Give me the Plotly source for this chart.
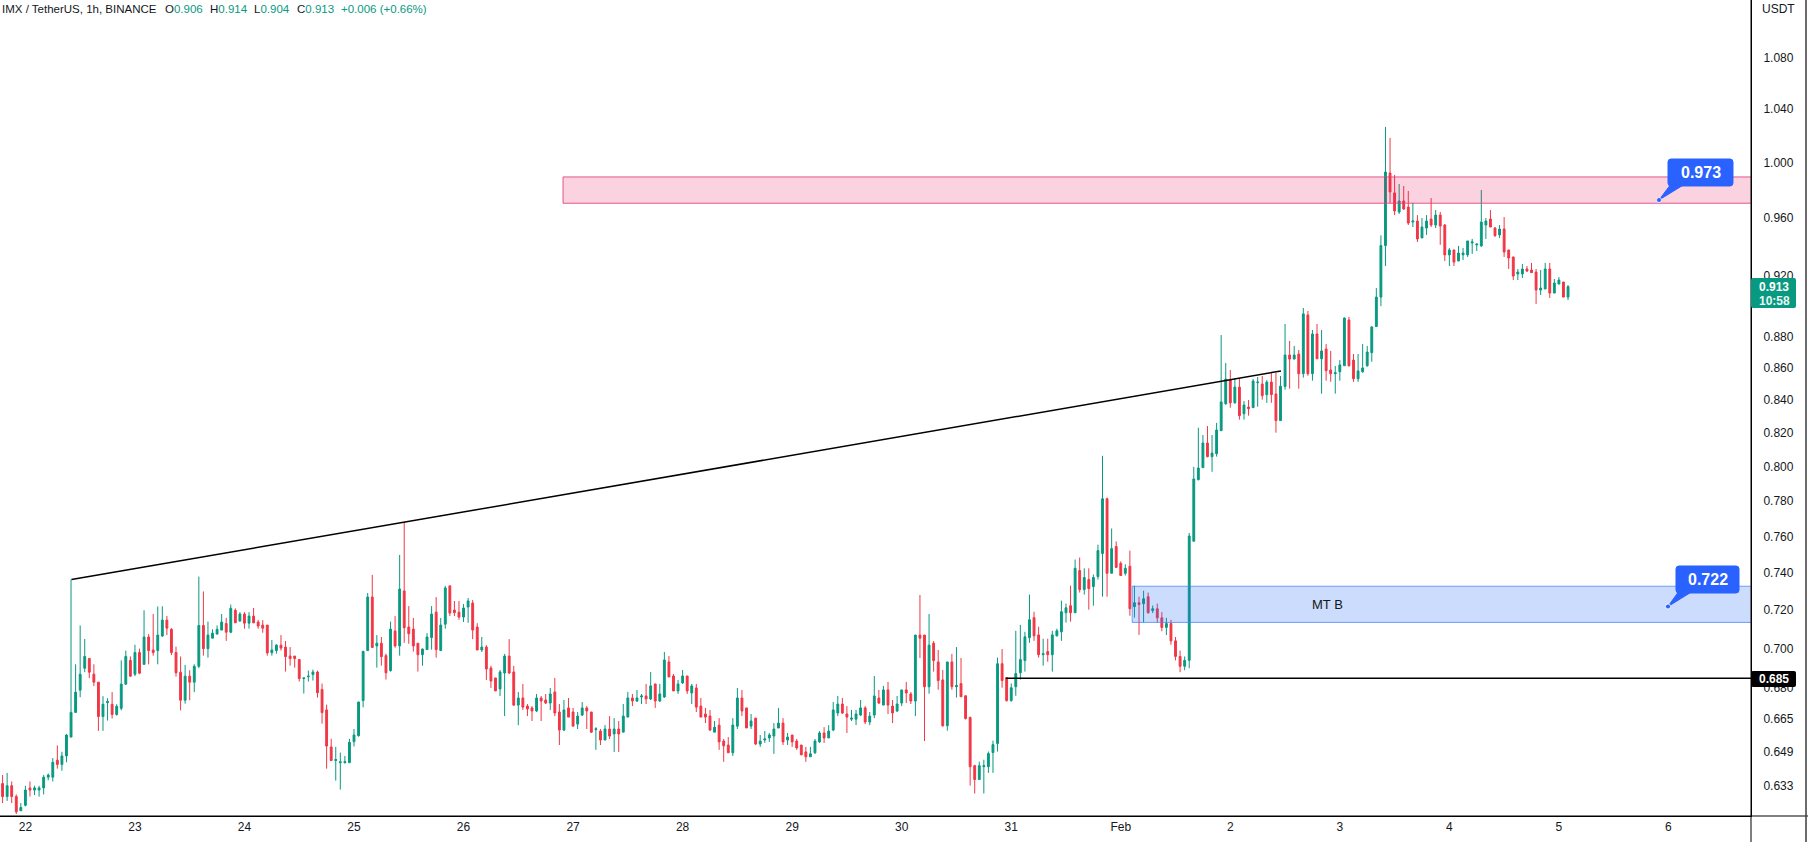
import math
import pandas as pd
import plotly.graph_objects as go

# ---------------- data (hourly candles, IMX/USDT) ----------------
START = "2023-01-21 19:00"

OPEN = [
    0.634, 0.628, 0.633, 0.628, 0.6215, 0.624, 0.632, 0.631, 0.631, 0.632,
    0.637, 0.637, 0.645, 0.643, 0.647, 0.656, 0.668, 0.679, 0.690, 0.695,
    0.687, 0.683, 0.666, 0.6728, 0.672, 0.667, 0.670, 0.682, 0.694, 0.687,
    0.698, 0.692, 0.706, 0.6993, 0.699, 0.7065, 0.7148, 0.710, 0.698, 0.688,
    0.674, 0.686, 0.683, 0.691, 0.712, 0.700, 0.7054, 0.7075, 0.7096, 0.713,
    0.7085, 0.720, 0.7143, 0.718, 0.7132, 0.7169, 0.7138, 0.7122, 0.7122, 0.6979,
    0.699, 0.7018, 0.7008, 0.6962, 0.6962, 0.6944, 0.6848, 0.6857, 0.6868, 0.6881,
    0.6793, 0.6692, 0.6513, 0.6448, 0.6438, 0.6438, 0.6438, 0.6538, 0.6567, 0.6738,
    0.699, 0.727, 0.7014, 0.7028, 0.6964, 0.6888, 0.7091, 0.7014, 0.7303, 0.7112,
    0.7101, 0.7028, 0.6969, 0.6995, 0.7057, 0.719, 0.699, 0.7127, 0.733, 0.7201,
    0.719,
    0.7164, 0.7217, 0.7238, 0.7112, 0.6993, 0.7008, 0.6901, 0.6851, 0.6796, 0.6876,
    0.6962, 0.6881, 0.6716, 0.6751, 0.6711, 0.6702, 0.6687, 0.6751, 0.6741, 0.6726,
    0.6781, 0.6682, 0.6594, 0.6702, 0.6682, 0.6623, 0.6667, 0.6702, 0.6682, 0.6596,
    0.6589, 0.6546, 0.6599, 0.6575, 0.6599, 0.6584, 0.6657, 0.6751, 0.6736, 0.6756,
    0.6761, 0.6746, 0.6821, 0.6736, 0.6756, 0.6932, 0.6861, 0.6786, 0.6826, 0.6861,
    0.6776, 0.6801, 0.6711, 0.6672, 0.6662, 0.6584, 0.6618, 0.6541, 0.6522, 0.6485,
    0.6613, 0.6751, 0.6702, 0.6613, 0.6652, 0.6527, 0.6546, 0.6556, 0.6565, 0.6604,
    0.6628, 0.6546, 0.657, 0.6541, 0.6522, 0.6489, 0.6466, 0.6485, 0.6537, 0.658,
    0.6556, 0.6594, 0.6677, 0.6721, 0.6672, 0.6647, 0.6647, 0.6667, 0.6702, 0.6633,
    0.6667, 0.6751, 0.6716, 0.6791, 0.6711, 0.6687, 0.6726, 0.6791, 0.6771, 0.6736,
    0.707,
    0.707, 0.6807, 0.7028, 0.6932, 0.6841, 0.6615, 0.6932, 0.6807, 0.6823, 0.6762,
    0.6655, 0.6424, 0.6359, 0.6419, 0.6419, 0.6486, 0.6529, 0.6923, 0.6852, 0.6738,
    0.6807, 0.6877, 0.6939, 0.7056, 0.7161, 0.7071, 0.6969, 0.6985, 0.6969, 0.7066,
    0.7087, 0.7187, 0.7224, 0.7187, 0.7413, 0.731, 0.7364, 0.7326, 0.738, 0.7506,
    0.7814, 0.7398, 0.7545, 0.7452, 0.7398, 0.7436, 0.7219, 0.724, 0.7235, 0.7272,
    0.7198,
    0.7208, 0.716, 0.711, 0.713, 0.704, 0.696, 0.691,
    0.694, 0.7574, 0.7924, 0.7994, 0.814, 0.8059, 0.8076, 0.8214, 0.8378, 0.8525,
    0.8384, 0.8481, 0.8317, 0.8358, 0.8354, 0.8509, 0.85, 0.8434, 0.8512, 0.8438,
    0.8275, 0.8485, 0.8683, 0.8657, 0.8689, 0.8565, 0.8942, 0.8565, 0.8818, 0.8659,
    0.8721, 0.8588, 0.8565, 0.8577, 0.8615, 0.8909, 0.8651, 0.8533, 0.8577, 0.8615,
    0.8698, 0.8866,
    0.906,
    0.9409, 0.9924, 0.978, 0.9644, 0.9722, 0.9679, 0.9573, 0.958, 0.9462, 0.9531,
    0.9594, 0.9552, 0.9622, 0.9552, 0.9345, 0.9379, 0.9303, 0.9345, 0.9345, 0.9427,
    0.9414, 0.9407, 0.9552, 0.9594, 0.9531, 0.9483, 0.9524, 0.9379, 0.9331, 0.9215,
    0.9215, 0.9249, 0.9242, 0.9228, 0.9107, 0.9114, 0.9249, 0.9087, 0.9147, 0.9161,
    0.906,
]

HIGH = [
    0.638, 0.639, 0.635, 0.629, 0.625, 0.633, 0.635, 0.633, 0.633, 0.638,
    0.6387, 0.646, 0.652, 0.649, 0.6575, 0.7365, 0.692, 0.712, 0.705, 0.695,
    0.692, 0.683, 0.676, 0.675, 0.678, 0.672, 0.694, 0.699, 0.696, 0.702,
    0.700, 0.720, 0.7075, 0.718, 0.722, 0.7221, 0.717, 0.7106, 0.701, 0.696,
    0.6917, 0.689, 0.692, 0.738, 0.730, 0.714, 0.710, 0.712, 0.718, 0.716,
    0.723, 0.721, 0.719, 0.719, 0.719, 0.7212, 0.7148, 0.7148, 0.7122, 0.7044,
    0.7023, 0.707, 0.7039, 0.7008, 0.6962, 0.6947, 0.6852, 0.6888, 0.6893, 0.6888,
    0.6823, 0.6718, 0.6552, 0.6513, 0.6486, 0.647, 0.6552, 0.6599, 0.6733, 0.699,
    0.7292, 0.7389, 0.707, 0.706, 0.6974, 0.714, 0.7169, 0.7498, 0.7682, 0.7222,
    0.7159, 0.7028, 0.7000, 0.708, 0.7222, 0.727, 0.7159, 0.733, 0.733, 0.7249,
    0.7249,
    0.7233, 0.7265, 0.7254, 0.7132, 0.706, 0.7018, 0.6912, 0.6851, 0.6891, 0.6973,
    0.7049, 0.6912, 0.6781, 0.6821, 0.6721, 0.6711, 0.6771, 0.6761, 0.6771, 0.6801,
    0.6851, 0.6721, 0.6741, 0.6751, 0.6702, 0.6682, 0.6731, 0.6711, 0.6682, 0.6608,
    0.6599, 0.6618, 0.6662, 0.6652, 0.6638, 0.6721, 0.6781, 0.6771, 0.6791, 0.6771,
    0.6821, 0.6881, 0.6821, 0.6821, 0.6983, 0.6962, 0.6871, 0.6841, 0.6891, 0.6861,
    0.6821, 0.6821, 0.6751, 0.6702, 0.6692, 0.6638, 0.6652, 0.6551, 0.656, 0.6652,
    0.6801, 0.6791, 0.6702, 0.6672, 0.6652, 0.657, 0.6589, 0.658, 0.6628, 0.6702,
    0.6652, 0.658, 0.657, 0.6551, 0.6522, 0.6513, 0.6513, 0.6551, 0.6589, 0.6608,
    0.6618, 0.6731, 0.6761, 0.6751, 0.6711, 0.6692, 0.6692, 0.6741, 0.6711, 0.6682,
    0.6861, 0.6791, 0.6811, 0.6831, 0.6741, 0.6761, 0.6791, 0.6831, 0.6781, 0.707,
    0.7281,
    0.707, 0.718, 0.7039, 0.6993, 0.6891, 0.6932, 0.6973, 0.7008, 0.6952, 0.6762,
    0.666, 0.6428, 0.6443, 0.6452, 0.6491, 0.6543, 0.6954, 0.6998, 0.6852, 0.6823,
    0.7092, 0.7123, 0.7087, 0.7283, 0.7192, 0.7113, 0.7051, 0.7051, 0.7092, 0.7103,
    0.7251, 0.7235, 0.7331, 0.7473, 0.7484, 0.7425, 0.7425, 0.7391, 0.7555, 0.8064,
    0.782, 0.7645, 0.7573, 0.7463, 0.7447, 0.7522, 0.7331, 0.7272, 0.7304, 0.7294,
    0.7225,
    0.7235, 0.719, 0.716, 0.715, 0.706, 0.699, 0.696,
    0.762, 0.7999, 0.8232, 0.8188, 0.8242, 0.8188, 0.8261, 0.8811, 0.8632, 0.8588,
    0.8538, 0.8538, 0.8395, 0.8401, 0.8531, 0.8544, 0.855, 0.8525, 0.8575, 0.8569,
    0.855, 0.8883, 0.8773, 0.8741, 0.8715, 0.8988, 0.8968, 0.8844, 0.8883, 0.8844,
    0.8753, 0.8709, 0.8613, 0.8651, 0.8925, 0.8929, 0.8689, 0.8689, 0.8753, 0.8741,
    0.8868, 0.912,
    0.948,
    1.0265, 1.0182, 0.991, 0.9844, 0.983, 0.9794, 0.9708, 0.9622, 0.9601, 0.9622,
    0.9743, 0.9658, 0.9644, 0.9559, 0.9393, 0.9379, 0.9407, 0.9393, 0.9441, 0.9455,
    0.942, 0.9801, 0.9601, 0.9658, 0.9538, 0.9552, 0.9608, 0.9379, 0.9331, 0.9249,
    0.9283, 0.9269, 0.929, 0.9249, 0.9242, 0.929, 0.929, 0.9181, 0.9194, 0.9161,
    0.914,
]

LOW = [
    0.625, 0.626, 0.625, 0.620, 0.6215, 0.6235, 0.628, 0.6287, 0.628, 0.629,
    0.6356, 0.635, 0.641, 0.640, 0.644, 0.656, 0.668, 0.6755, 0.688, 0.685,
    0.681, 0.659, 0.659, 0.664, 0.665, 0.6664, 0.669, 0.6816, 0.6856, 0.686,
    0.687, 0.6917, 0.692, 0.6964, 0.692, 0.7061, 0.707, 0.6967, 0.6858, 0.669,
    0.6723, 0.674, 0.678, 0.690, 0.6964, 0.6954, 0.7054, 0.7075, 0.7096, 0.704,
    0.708, 0.7134, 0.714, 0.7103, 0.7103, 0.7132, 0.7103, 0.7082, 0.6964, 0.6964,
    0.6974, 0.699, 0.6883, 0.6913, 0.6903, 0.6833, 0.6773, 0.6833, 0.6838, 0.6753,
    0.6625, 0.641, 0.6448, 0.6354, 0.6312, 0.6434, 0.6438, 0.6515, 0.6562, 0.6705,
    0.699, 0.7006, 0.6903, 0.6913, 0.6843, 0.6883, 0.7005, 0.6964, 0.703, 0.7025,
    0.6985, 0.6883, 0.6913, 0.6995, 0.6995, 0.6954, 0.699, 0.7103, 0.7169, 0.7169,
    0.715,
    0.7138, 0.7134, 0.7049, 0.6993, 0.6983, 0.6841, 0.6801, 0.6786, 0.6761, 0.6662,
    0.6871, 0.6711, 0.6618, 0.6692, 0.6662, 0.6638, 0.6682, 0.6638, 0.6721, 0.6692,
    0.6662, 0.6522, 0.6589, 0.6657, 0.6613, 0.6599, 0.6662, 0.6599, 0.658, 0.6499,
    0.6522, 0.6546, 0.6551, 0.6489, 0.6489, 0.6584, 0.6657, 0.6711, 0.6731, 0.6721,
    0.6721, 0.6741, 0.6702, 0.6731, 0.6751, 0.6856, 0.6786, 0.6771, 0.6821, 0.6771,
    0.6721, 0.6682, 0.6657, 0.6628, 0.6589, 0.6584, 0.6499, 0.6442, 0.6485, 0.647,
    0.6599, 0.6662, 0.6604, 0.6599, 0.6522, 0.6513, 0.6532, 0.6537, 0.648, 0.6604,
    0.6522, 0.6522, 0.6513, 0.6499, 0.6475, 0.6442, 0.6466, 0.648, 0.6532, 0.6532,
    0.6556, 0.6589, 0.6662, 0.6672, 0.658, 0.6638, 0.6618, 0.6662, 0.6623, 0.6618,
    0.6652, 0.6721, 0.6716, 0.6672, 0.6628, 0.6682, 0.6711, 0.6726, 0.6721, 0.6662,
    0.6952,
    0.6541, 0.6772, 0.6883, 0.6792, 0.661, 0.6591, 0.6792, 0.6753, 0.6757, 0.6645,
    0.6331, 0.6294, 0.6359, 0.6294, 0.639, 0.639, 0.6491, 0.6802, 0.6733, 0.6733,
    0.6762, 0.6843, 0.6883, 0.703, 0.704, 0.6954, 0.6913, 0.6933, 0.6883, 0.7063,
    0.704, 0.7135, 0.714, 0.7187, 0.7294, 0.7283, 0.7203, 0.7224, 0.7364, 0.7272,
    0.7272, 0.7398, 0.743, 0.7386, 0.7386, 0.7171, 0.7161, 0.7071, 0.7135, 0.7182,
    0.7185,
    0.7135, 0.709, 0.707, 0.702, 0.694, 0.688, 0.689,
    0.690, 0.7574, 0.792, 0.7994, 0.8055, 0.797, 0.8059, 0.8214, 0.8372, 0.8354,
    0.8378, 0.8281, 0.8281, 0.8305, 0.8354, 0.836, 0.8403, 0.8384, 0.8384, 0.8202,
    0.8275, 0.8465, 0.8471, 0.8657, 0.8471, 0.854, 0.8552, 0.8521, 0.8659, 0.844,
    0.8521, 0.8514, 0.844, 0.8521, 0.8615, 0.8609, 0.8514, 0.8514, 0.8571, 0.8609,
    0.864, 0.8866,
    0.900,
    0.9269, 0.9708, 0.9622, 0.963, 0.9658, 0.9552, 0.9538, 0.9434, 0.9462, 0.9483,
    0.9538, 0.9531, 0.9414, 0.9303, 0.9269, 0.9269, 0.9303, 0.931, 0.9331, 0.9352,
    0.9372, 0.94, 0.9455, 0.9538, 0.9469, 0.9462, 0.9331, 0.9249, 0.9174, 0.9174,
    0.9188, 0.9228, 0.9222, 0.9015, 0.9074, 0.9114, 0.9054, 0.9087, 0.9147, 0.906,
    0.904,
]

CLOSE = [
    0.628, 0.633, 0.628, 0.621, 0.623, 0.631, 0.631, 0.632, 0.632, 0.637,
    0.638, 0.644, 0.643, 0.647, 0.657, 0.668, 0.678, 0.687, 0.696, 0.688,
    0.683, 0.666, 0.672, 0.6734, 0.667, 0.671, 0.682, 0.696, 0.686, 0.698,
    0.6875, 0.706, 0.699, 0.698, 0.707, 0.7148, 0.7106, 0.698, 0.6877, 0.674,
    0.686, 0.683, 0.691, 0.712, 0.700, 0.707, 0.708, 0.710, 0.7138, 0.7085,
    0.721, 0.7134, 0.718, 0.7132, 0.7169, 0.7134, 0.7117, 0.7106, 0.6978, 0.6993,
    0.7018, 0.7003, 0.6959, 0.6949, 0.6949, 0.6848, 0.6851, 0.686, 0.6881, 0.6777,
    0.6679, 0.6517, 0.6448, 0.6453, 0.6442, 0.6443, 0.6535, 0.657, 0.6731, 0.6985,
    0.727, 0.7006, 0.7028, 0.6959, 0.6877, 0.7101, 0.7014, 0.7313, 0.7108, 0.7077,
    0.7014, 0.6969, 0.6998, 0.706, 0.718, 0.6995, 0.7122, 0.7319, 0.7185, 0.7187,
    0.7164,
    0.7212, 0.7249, 0.7096, 0.6993, 0.7008, 0.6896, 0.6836, 0.6786, 0.6881, 0.6962,
    0.6876, 0.6716, 0.6751, 0.6706, 0.6697, 0.6687, 0.6751, 0.6736, 0.6726, 0.6771,
    0.6677, 0.6594, 0.6692, 0.6657, 0.6613, 0.6662, 0.6702, 0.6687, 0.6584, 0.66,
    0.6546, 0.6599, 0.6565, 0.6599, 0.6575, 0.6662, 0.6751, 0.6736, 0.6751, 0.6761,
    0.6746, 0.6811, 0.6736, 0.6771, 0.6942, 0.6856, 0.6786, 0.6821, 0.6861, 0.6786,
    0.6811, 0.6706, 0.6657, 0.6657, 0.6594, 0.6608, 0.6537, 0.6518, 0.6485, 0.6618,
    0.6751, 0.6687, 0.6604, 0.6638, 0.6527, 0.6541, 0.6551, 0.657, 0.6599, 0.6628,
    0.6537, 0.656, 0.6537, 0.6508, 0.6475, 0.6466, 0.648, 0.6541, 0.658, 0.6556,
    0.6589, 0.6692, 0.6721, 0.6677, 0.6657, 0.6652, 0.6672, 0.6702, 0.6633, 0.6662,
    0.6761, 0.6726, 0.6791, 0.6716, 0.6677, 0.6721, 0.6791, 0.6776, 0.6736, 0.707,
    0.7054,
    0.6807, 0.7018, 0.6939, 0.6838, 0.6615, 0.6932, 0.6807, 0.6813, 0.6757, 0.665,
    0.6419, 0.6359, 0.6424, 0.6424, 0.6481, 0.6524, 0.6923, 0.6838, 0.6738, 0.6802,
    0.6873, 0.6944, 0.7061, 0.715, 0.7066, 0.6969, 0.6974, 0.6969, 0.7071, 0.7092,
    0.7192, 0.7213, 0.7187, 0.7425, 0.731, 0.7375, 0.7315, 0.7375, 0.7522, 0.7814,
    0.7398, 0.7533, 0.743, 0.7386, 0.7425, 0.7208, 0.724, 0.723, 0.7261, 0.7187,
    0.7208,
    0.716, 0.711, 0.713, 0.704, 0.696, 0.691, 0.694,
    0.7603, 0.7928, 0.7992, 0.814, 0.8059, 0.808, 0.8218, 0.8389, 0.8531, 0.8384,
    0.8481, 0.8305, 0.837, 0.8348, 0.8519, 0.8512, 0.8428, 0.8512, 0.8434, 0.8275,
    0.8487, 0.8683, 0.8657, 0.8683, 0.8565, 0.8949, 0.8565, 0.8818, 0.8659, 0.8709,
    0.8584, 0.8565, 0.8571, 0.862, 0.8922, 0.8615, 0.8533, 0.8582, 0.8601, 0.8702,
    0.8864, 0.906,
    0.9409,
    0.9931, 0.9787, 0.9651, 0.9722, 0.9665, 0.9566, 0.958, 0.9455, 0.9538, 0.958,
    0.9552, 0.9622, 0.9545, 0.9345, 0.9379, 0.9296, 0.9358, 0.9358, 0.9441, 0.9434,
    0.942, 0.9573, 0.958, 0.9538, 0.9478, 0.9524, 0.9365, 0.9324, 0.9201, 0.9228,
    0.9249, 0.9235, 0.9224, 0.9107, 0.912, 0.9249, 0.9087, 0.9154, 0.9174, 0.906,
    0.913,
]

# axis ticks
PRICE_TICKS = [1.080, 1.040, 1.000, 0.960, 0.920, 0.880, 0.860, 0.840, 0.820, 0.800,
               0.780, 0.760, 0.740, 0.720, 0.700, 0.680, 0.665, 0.649, 0.633]
PRICE_TICK_TEXT = [f"{v:.3f}" for v in PRICE_TICKS]
DAY_TICKS = list(pd.date_range("2023-01-22", "2023-02-06", freq="D"))
DAY_TICK_TEXT = ["22", "23", "24", "25", "26", "27", "28", "29", "30", "31",
                 "Feb", "2", "3", "4", "5", "6"]

# drawings
RESIST_ZONE = (0.9706, 0.9895)
RESIST_START = "2023-01-26 21:48"
RESIST_LABEL = "0.973"
SUPPORT_ZONE = (0.7136, 0.7328)
SUPPORT_START = "2023-02-01 02:30"
SUPPORT_LABEL = "0.722"
SUPPORT_TEXT = "MT B"
TREND_X = ["2023-01-22 10:06", "2023-02-02 11:06"]
TREND_Y = [0.7364, 0.8582]
LEVEL = 0.685
LEVEL_START = "2023-01-30 22:48"
LAST_O, LAST_H, LAST_L, LAST_C = 0.906, 0.914, 0.904, 0.913
LAST_CHG, LAST_PCT = 0.006, 0.66
COUNTDOWN = "10:58"

# ---------------- styling / layout ----------------
GREEN = "#089981"
RED = "#F23645"
TEXT = "#131722"
BLUE = "#2962FF"
FONT = "Liberation Sans, Arial, sans-serif"

W, H = 1808, 842
ML, MR, MT, MB = 0, 57, 0, 26
PW, PH = W - ML - MR, H - MT - MB

HOUR_PX = 4.564
DAY0 = pd.Timestamp("2023-01-22")
X0 = DAY0 - pd.Timedelta(hours=25.4 / HOUR_PX)
X1 = DAY0 + pd.Timedelta(hours=(PW - 25.4) / HOUR_PX)
FAR = X1 + pd.Timedelta(days=2)
Y_RANGE = [math.log10(0.6191), math.log10(1.1267)]


def xp(px):
    return px / PW


def yp(py):
    return 1 - py / PH


def pt(px, py):
    return f"{xp(px):.6f},{yp(py):.6f}"


def rrect_path(x0, y0, x1, y1, r):
    return (f"M{pt(x0 + r, y0)} L{pt(x1 - r, y0)} Q{pt(x1, y0)} {pt(x1, y0 + r)} "
            f"L{pt(x1, y1 - r)} Q{pt(x1, y1)} {pt(x1 - r, y1)} "
            f"L{pt(x0 + r, y1)} Q{pt(x0, y1)} {pt(x0, y1 - r)} "
            f"L{pt(x0, y0 + r)} Q{pt(x0, y0)} {pt(x0 + r, y0)} Z")


n = min(len(OPEN), len(HIGH), len(LOW), len(CLOSE))
times = pd.date_range(START, periods=n, freq="h")

fig = go.Figure()


def zone(x0, lo, hi, fill, line):
    return go.Scatter(x=[x0, FAR, FAR, x0, x0], y=[lo, lo, hi, hi, lo], mode="lines",
                      fill="toself", fillcolor=fill, line=dict(color=line, width=1),
                      hoverinfo="skip", showlegend=False)


fig.add_trace(zone(RESIST_START, *RESIST_ZONE, "rgba(233,30,99,0.2)", "rgba(225,60,120,0.85)"))
fig.add_trace(zone(SUPPORT_START, *SUPPORT_ZONE, "rgba(41,110,245,0.24)", "rgba(70,130,245,0.75)"))

fig.add_trace(go.Candlestick(
    x=times, open=OPEN[:n], high=HIGH[:n], low=LOW[:n], close=CLOSE[:n],
    increasing=dict(line=dict(color=GREEN, width=1), fillcolor=GREEN),
    decreasing=dict(line=dict(color=RED, width=1), fillcolor=RED),
    whiskerwidth=0, hoverinfo="skip", showlegend=False))

fig.add_trace(go.Scatter(x=TREND_X, y=TREND_Y, mode="lines",
                         line=dict(color="#000000", width=1.5),
                         hoverinfo="skip", showlegend=False))
fig.add_trace(go.Scatter(x=[LEVEL_START, FAR], y=[LEVEL, LEVEL], mode="lines",
                         line=dict(color="#000000", width=1.5),
                         hoverinfo="skip", showlegend=False))

shapes = []
annotations = []

# extra frame lines
shapes.append(dict(type="line", xref="paper", yref="paper", x0=1, x1=1,
                   y0=1, y1=yp(H), line=dict(color="#000000", width=1)))
shapes.append(dict(type="line", xref="paper", yref="paper", x0=0, x1=xp(W),
                   y0=0, y1=0, line=dict(color="#000000", width=1.2)))
shapes.append(dict(type="line", xref="paper", yref="paper", x0=xp(1806), x1=xp(1806),
                   y0=1, y1=yp(H), line=dict(color="#3c3c3c", width=1.5)))

# callouts
for (bx0, by0, bx1, by1), tail, dot, label in [
    ((1668, 159, 1733, 186), [(1671, 184), (1685, 184)], (1659, 200), RESIST_LABEL),
    ((1676, 566, 1739, 593), [(1679, 591), (1693, 591)], (1668, 606.5), SUPPORT_LABEL),
]:
    shapes.append(dict(type="path", xref="paper", yref="paper",
                       path=rrect_path(bx0, by0, bx1, by1, 3),
                       fillcolor=BLUE, line=dict(color=BLUE, width=1), layer="above"))
    shapes.append(dict(type="path", xref="paper", yref="paper",
                       path=f"M{pt(*tail[0])} L{pt(*tail[1])} L{pt(*dot)} Z",
                       fillcolor=BLUE, line=dict(color=BLUE, width=1), layer="above"))
    shapes.append(dict(type="circle", xref="paper", yref="paper",
                       x0=xp(dot[0] - 2.5), x1=xp(dot[0] + 2.5),
                       y0=yp(dot[1] + 2.5), y1=yp(dot[1] - 2.5),
                       fillcolor=BLUE, line=dict(color="#ffffff", width=0.8), layer="above"))
    annotations.append(dict(xref="paper", yref="paper", x=xp((bx0 + bx1) / 2),
                            y=yp((by0 + by1) / 2), text=f"<b>{label}</b>", showarrow=False,
                            font=dict(color="#ffffff", size=16, family=FONT),
                            xanchor="center", yanchor="middle"))

# price labels on axis
shapes.append(dict(type="path", xref="paper", yref="paper",
                   path=rrect_path(1751, 278, 1796, 308, 2),
                   fillcolor=GREEN, line=dict(color=GREEN, width=0), layer="above"))
annotations.append(dict(xref="paper", yref="paper", x=xp(1774), y=yp(286.5),
                        text=f"<b>{LAST_C:.3f}</b>", showarrow=False,
                        font=dict(color="#ffffff", size=12, family=FONT),
                        xanchor="center", yanchor="middle"))
annotations.append(dict(xref="paper", yref="paper", x=xp(1774), y=yp(300.5),
                        text=f"<b>{COUNTDOWN}</b>", showarrow=False,
                        font=dict(color="#e8f6f3", size=12, family=FONT),
                        xanchor="center", yanchor="middle"))
shapes.append(dict(type="path", xref="paper", yref="paper",
                   path=rrect_path(1751, 671, 1796, 687, 2),
                   fillcolor="#000000", line=dict(color="#000000", width=0), layer="above"))
annotations.append(dict(xref="paper", yref="paper", x=xp(1774), y=yp(679),
                        text=f"<b>{LEVEL:.3f}</b>", showarrow=False,
                        font=dict(color="#ffffff", size=12, family=FONT),
                        xanchor="center", yanchor="middle"))

# zone text
annotations.append(dict(xref="paper", yref="paper", x=xp(1327), y=yp(604),
                        text=SUPPORT_TEXT, showarrow=False,
                        font=dict(color=TEXT, size=13, family=FONT),
                        xanchor="center", yanchor="middle"))

# axis title
annotations.append(dict(xref="paper", yref="paper", x=xp(1760), y=yp(9.5),
                        text="USDT", showarrow=False,
                        font=dict(color=TEXT, size=12, family=FONT),
                        xanchor="left", yanchor="middle"))

# header legend
g = lambda v: f"<span style='color:{GREEN}'>{v}</span>"
header = [
    (0, "IMX / TetherUS, 1h, BINANCE"),
    (163, "O" + g(f"{LAST_O:.3f}")),
    (208, "H" + g(f"{LAST_H:.3f}")),
    (252, "L" + g(f"{LAST_L:.3f}")),
    (295, "C" + g(f"{LAST_C:.3f}")),
    (339, g(f"+{LAST_CHG:.3f} (+{LAST_PCT:.2f}%)")),
]
for hx, txt in header:
    annotations.append(dict(xref="paper", yref="paper", x=xp(hx), y=yp(9.5),
                            text=txt, showarrow=False,
                            font=dict(color=TEXT, size=11.5, family=FONT),
                            xanchor="left", yanchor="middle"))

fig.update_layout(
    width=W, height=H,
    margin=dict(l=ML, r=MR, t=MT, b=MB, pad=0),
    paper_bgcolor="#ffffff", plot_bgcolor="#ffffff",
    font=dict(family=FONT, color=TEXT, size=12),
    showlegend=False, hovermode=False,
    boxgap=0.42,
    shapes=shapes, annotations=annotations,
    xaxis=dict(type="date", range=[X0, X1], tickvals=DAY_TICKS, ticktext=DAY_TICK_TEXT,
               showgrid=False, zeroline=False, showline=True, linecolor="#000000",
               linewidth=1, ticks="", tickfont=dict(size=12, color=TEXT),
               rangeslider=dict(visible=False), fixedrange=True),
    yaxis=dict(type="log", side="right", range=Y_RANGE, tickvals=PRICE_TICKS,
               ticktext=PRICE_TICK_TEXT, showgrid=False, zeroline=False,
               showline=True, linecolor="#000000", linewidth=1, ticks="",
               ticklabelstandoff=9, tickfont=dict(size=12, color=TEXT), fixedrange=True),
)

fig.write_html("out.html")
